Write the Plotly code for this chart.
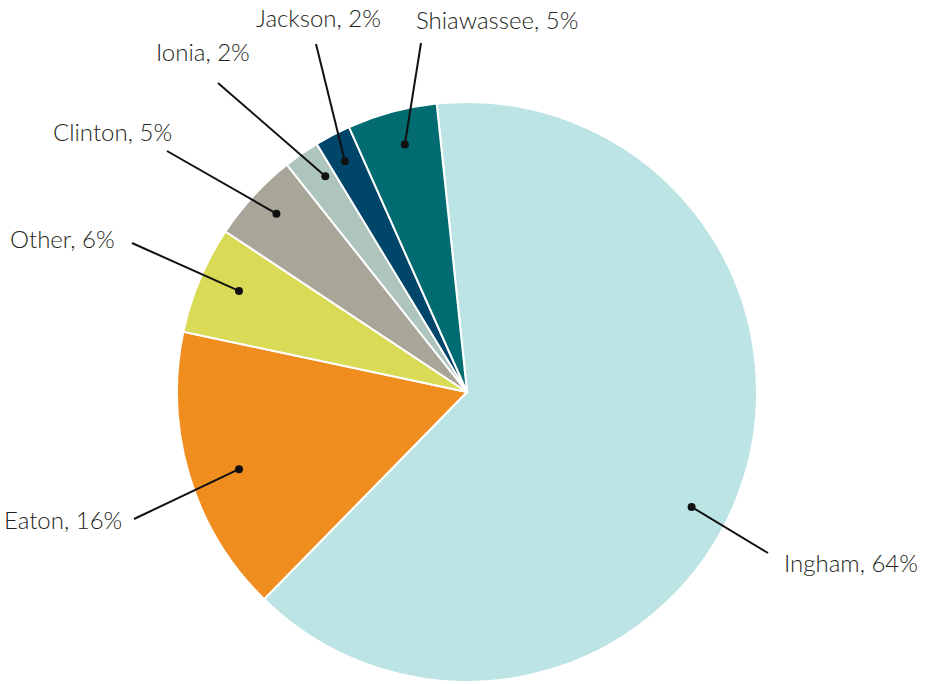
import math
import plotly.graph_objects as go

# County shares (percent), listed clockwise from the top of the pie
counties = ["Ingham", "Eaton", "Other", "Clinton", "Ionia", "Jackson", "Shiawassee"]
shares = [64, 16, 6, 5, 2, 2, 5]
colors = ["#BDE4E4", "#F08D1F", "#D9DB56", "#A8A699", "#ADC5BC", "#00456A", "#006B70"]

W, H = 927, 684
CX, CY, R = 467, 392, 290          # pie centre and radius in pixels
ROTATION = -6                      # start angle of the first slice (degrees)

# Label placement: (dot angle nudge deg, dot radius fraction,
#                   leader end x, leader end y, text x, text y, text anchor)
label_style = {
    "Ingham":     (7.9, 0.87, 768, 553, 782, 562, "left"),
    "Eaton":      (-1.9, 0.83, 134, 519, 2, 519, "left"),
    "Other":      (1.1, 0.86, 132, 243, 8, 239, "left"),
    "Clinton":    (0.5, 0.90, 167, 151, 112, 132, "center"),
    "Ionia":      (1.5, 0.89, 218, 83, 203, 51, "center"),
    "Jackson":    (-0.3, 0.90, 316, 44, 318, 18, "center"),
    "Shiawassee": (0.9, 0.88, 421, 43, 497, 20, "center"),
}


def px_to_paper(x, y):
    return x / W, 1 - y / H


fig = go.Figure()
fig.add_trace(go.Pie(
    labels=counties,
    values=shares,
    sort=False,
    direction="clockwise",
    rotation=ROTATION,
    marker=dict(colors=colors, line=dict(color="white", width=2)),
    textinfo="none",
    hoverinfo="skip",
    showlegend=False,
    domain=dict(x=[(CX - R) / W, (CX + R) / W], y=[1 - (CY + R) / H, 1 - (CY - R) / H]),
))

shapes = []
annotations = []
total = sum(shares)
start = ROTATION
for name, val in zip(counties, shares):
    span = 360 * val / total
    mid = start + span / 2
    start += span
    nudge, rfrac, lx, ly, tx, ty, anchor = label_style[name]
    ang = math.radians(mid + nudge)
    dx = CX + rfrac * R * math.sin(ang)
    dy = CY - rfrac * R * math.cos(ang)
    x0, y0 = px_to_paper(lx, ly)
    x1, y1 = px_to_paper(dx, dy)
    shapes.append(dict(type="line", xref="paper", yref="paper",
                       x0=x0, y0=y0, x1=x1, y1=y1,
                       line=dict(color="#111111", width=2)))
    shapes.append(dict(type="circle", xref="paper", yref="paper",
                       xsizemode="pixel", ysizemode="pixel",
                       xanchor=x1, yanchor=y1, x0=-4, x1=4, y0=-4, y1=4,
                       fillcolor="#111111", line=dict(width=0)))
    ax_, ay_ = px_to_paper(tx, ty)
    annotations.append(dict(x=ax_, y=ay_, xref="paper", yref="paper",
                            text=f"{name}, {val}%", showarrow=False,
                            xanchor=anchor, yanchor="middle",
                            font=dict(family="Lato", size=24, weight=300,
                                      color="#231F20")))

fig.update_layout(
    width=W, height=H,
    margin=dict(l=0, r=0, t=0, b=0),
    paper_bgcolor="white",
    plot_bgcolor="white",
    shapes=shapes,
    annotations=annotations,
)

fig.write_html("out.html")
